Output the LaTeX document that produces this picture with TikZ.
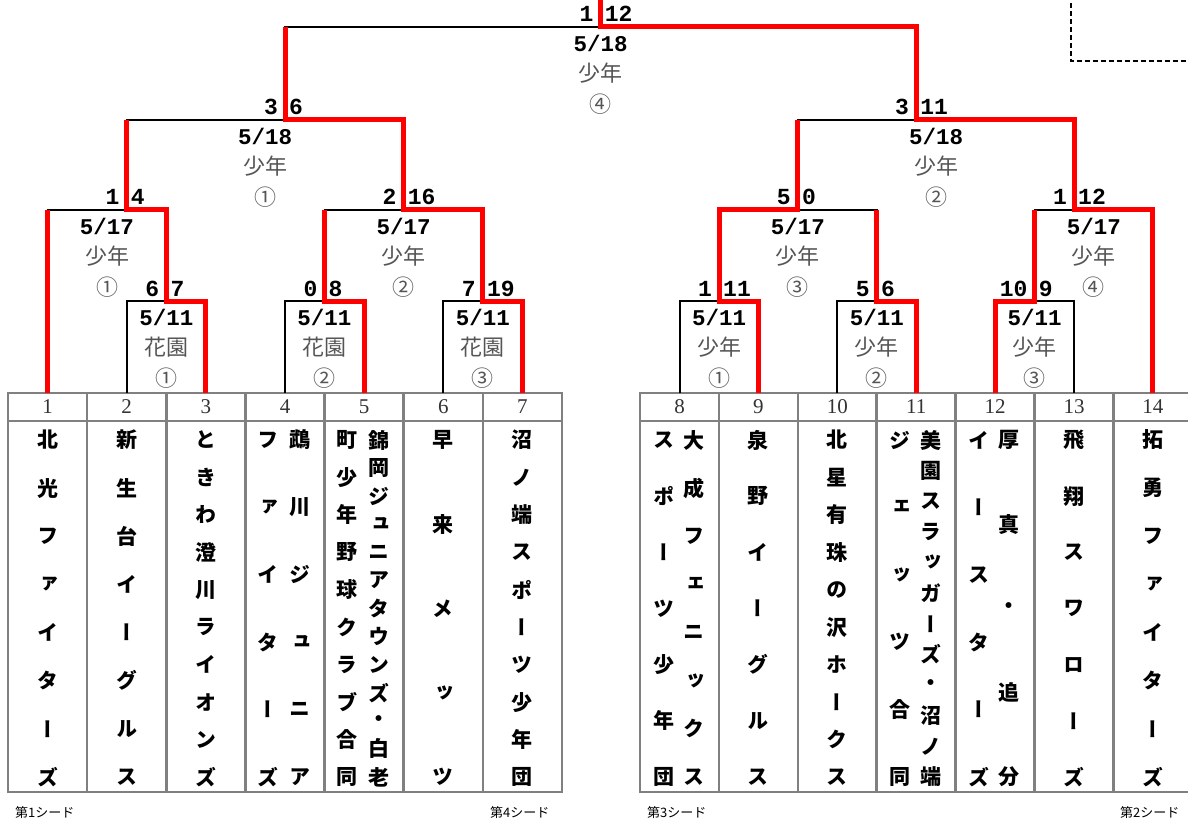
\documentclass[tikz,border=0pt]{standalone}
\usepackage{fontspec}
\setmainfont{Liberation Serif}
\newfontfamily\jpv[RawFeature=+vert]{Noto Sans CJK JP}
\newfontfamily\jp{Noto Sans CJK JP}
\newfontfamily\mono{Liberation Mono}
\definecolor{winred}{HTML}{FF0000}
\definecolor{tgray}{HTML}{808080}
\definecolor{lgray}{HTML}{555555}
\definecolor{ngray}{HTML}{333333}
\tikzset{
  blk/.style={black, line width=2pt},
  win/.style={winred, line width=5pt, line join=miter},
  tbl/.style={tgray, line width=2.5pt},
  score/.style={font=\mono\bfseries\fontsize{23}{23}\selectfont, inner sep=0pt},
  datet/.style={font=\mono\bfseries\fontsize{22.5}{22.5}\selectfont, inner sep=0pt},
  venue/.style={font=\jp\fontsize{22}{22}\selectfont, text=lgray, inner sep=0pt},
  circ/.style={font=\jp\fontsize{22}{22}\selectfont, text=lgray, inner sep=0pt},
  nm/.style={font=\jpv\bfseries\fontsize{21}{21}\selectfont, inner sep=0pt},
  num/.style={font=\fontsize{21}{21}\selectfont, text=ngray, inner sep=0pt},
  seed/.style={font=\jp\fontsize{13}{13}\selectfont, anchor=west, inner sep=0pt},
}
\newcommand\vcol[4]{%
  \foreach \ch [count=\k] in {#4} {%
    \pgfmathsetmacro\yy{440+(\k-1)*337/(#3-1)}%
    \node[nm] (#1-\k) at (#2,\yy) {\ch};
  }%
}
\newcommand\mscore[5]{%
  \node[score, anchor=base east] (#1l) at (#2-7,#3-5) {#4};
  \node[score, anchor=base west] (#1r) at (#2+4,#3-5) {#5};
}
\newcommand\minfo[6]{%
  \node[datet] (#1d) at (#2,#3+16) {#4};
  \node[venue] (#1v) at (#2,#3+46) {#5};
  \node[circ] (#1c) at (#2,#3+77) {#6};
}
\begin{document}
\begin{tikzpicture}[x=1pt,y=-1pt]
\useasboundingbox (0,0) rectangle (1188,826);
\clip (0,0) rectangle (1188,826);
\fill[white] (0,0) rectangle (1188,826);

% tables
\draw[tbl] (8,393) rectangle (562,792);
\draw[tbl] (8,421) -- (562,421);
\foreach \k in {1,...,6} \draw[tbl] ({8+\k*79.143},393) -- ({8+\k*79.143},792);
\draw[tbl] (640,393) rectangle (1193,792);
\draw[tbl] (640,421) -- (1193,421);
\foreach \k in {1,...,6} \draw[tbl] ({640+\k*78.9},393) -- ({640+\k*78.9},792);

% leaf coordinates
\coordinate (L1) at (47.6,393);
\coordinate (L2) at (126.7,393);
\coordinate (L3) at (205.9,393);
\coordinate (L4) at (285.0,393);
\coordinate (L5) at (364.1,393);
\coordinate (L6) at (443.3,393);
\coordinate (L7) at (522.4,393);
\coordinate (L8) at (679.5,393);
\coordinate (L9) at (758.4,393);
\coordinate (L10) at (837.3,393);
\coordinate (L11) at (916.2,393);
\coordinate (L12) at (995.1,393);
\coordinate (L13) at (1074.0,393);
\coordinate (L14) at (1152.9,393);
% match coordinates
\coordinate (B23) at (166.3,301);
\coordinate (B45) at (324.5,301);
\coordinate (B67) at (482.9,301);
\coordinate (B89) at (719.0,301);
\coordinate (B1011) at (876.8,301);
\coordinate (B1213) at (1034.6,301);
\coordinate (A) at (126.7,210);
\coordinate (B) at (403.7,210);
\coordinate (C) at (797.9,210);
\coordinate (D) at (1074.0,210);
\coordinate (SL) at (285.0,120);
\coordinate (SR) at (916.2,120);
\coordinate (F) at (600.6,27);
\coordinate (T) at (600.6,-5);

% table numbers
\foreach \i in {1,...,14} \node[num] (n\i) at (L\i |- 0,407) {\i};

% black bracket
\draw[blk] (L2) |- (B23) -| (L3);
\draw[blk] (L4) |- (B45) -| (L5);
\draw[blk] (L6) |- (B67) -| (L7);
\draw[blk] (L8) |- (B89) -| (L9);
\draw[blk] (L10) |- (B1011) -| (L11);
\draw[blk] (L12) |- (B1213) -| (L13);
\draw[blk] (L1) |- (A) -| (B23);
\draw[blk] (B45) |- (B) -| (B67);
\draw[blk] (B89) |- (C) -| (B1011);
\draw[blk] (B1213) |- (D) -| (L14);
\draw[blk] (A) |- (SL) -| (B);
\draw[blk] (C) |- (SR) -| (D);
\draw[blk] (SL) |- (F) -| (SR);

% winners
\draw[win] (L1) -- (L1 |- A);
\draw[win] (L3) |- (B23) -- (B23 |- A) -- (A) -- (A |- SL);
\draw[win] (L5) |- (B45) -- (B45 |- B);
\draw[win] (L7) |- (B67) -- (B67 |- B) -- (B) -- (B |- SL) -- (SL) -- (SL |- F);
\draw[win] (L9) |- (B89) -- (B89 |- C) -- (C) -- (C |- SR);
\draw[win] (L11) |- (B1011) -- (B1011 |- C);
\draw[win] (L12) |- (B1213) -- (B1213 |- D);
\draw[win] (L14) -- (L14 |- D) -- (D) -- (D |- SR) -- (SR) -- (SR |- F) -- (F) -- (T);

% scores
\mscore{s23}{166.3}{301}{6}{7}
\mscore{s45}{324.5}{301}{0}{8}
\mscore{s67}{482.9}{301}{7}{19}
\mscore{s89}{719.0}{301}{1}{11}
\mscore{s1011}{876.8}{301}{5}{6}
\mscore{s1213}{1034.6}{301}{10}{9}
\mscore{sA}{126.7}{210}{1}{4}
\mscore{sB}{403.7}{210}{2}{16}
\mscore{sC}{797.9}{210}{5}{0}
\mscore{sD}{1074.0}{210}{1}{12}
\mscore{sSL}{285.0}{120}{3}{6}
\mscore{sSR}{916.2}{120}{3}{11}
\mscore{sF}{600.6}{27}{1}{12}

% match info
\minfo{i23}{166.3}{301}{5/11}{花園}{①}
\minfo{i45}{324.5}{301}{5/11}{花園}{②}
\minfo{i67}{482.9}{301}{5/11}{花園}{③}
\minfo{i89}{719.0}{301}{5/11}{少年}{①}
\minfo{i1011}{876.8}{301}{5/11}{少年}{②}
\minfo{i1213}{1034.6}{301}{5/11}{少年}{③}
\minfo{iA}{107.0}{210}{5/17}{少年}{①}
\minfo{iB}{403.7}{210}{5/17}{少年}{②}
\minfo{iC}{797.9}{210}{5/17}{少年}{③}
\minfo{iD}{1093.8}{210}{5/17}{少年}{④}
\minfo{iSL}{265.2}{120}{5/18}{少年}{①}
\minfo{iSR}{936.0}{120}{5/18}{少年}{②}
\minfo{iF}{600.6}{27}{5/18}{少年}{④}

% team names
\vcol{t1}{47.6}{8}{北,光,フ,ァ,イ,タ,ー,ズ}
\vcol{t2}{126.7}{8}{新,生,台,イ,ー,グ,ル,ス}
\vcol{t3}{205.9}{10}{と,き,わ,澄,川,ラ,イ,オ,ン,ズ}
\vcol{t4a}{300}{6}{鵡,川,ジ,ュ,ニ,ア}
\vcol{t4b}{268}{6}{フ,ァ,イ,タ,ー,ズ}
\vcol{t5a}{379}{13}{錦,岡,ジ,ュ,ニ,ア,タ,ウ,ン,ズ,・,白,老}
\vcol{t5b}{347}{10}{町,少,年,野,球,ク,ラ,ブ,合,同}
\vcol{t6}{443.3}{5}{早,来,メ,ッ,ツ}
\vcol{t7}{522.4}{10}{沼,ノ,端,ス,ポ,ー,ツ,少,年,団}
\vcol{t8a}{694}{8}{大,成,フ,ェ,ニ,ッ,ク,ス}
\vcol{t8b}{664}{7}{ス,ポ,ー,ツ,少,年,団}
\vcol{t9}{758.4}{7}{泉,野,イ,ー,グ,ル,ス}
\vcol{t10}{837.3}{10}{北,星,有,珠,の,沢,ホ,ー,ク,ス}
\vcol{t11a}{931}{12}{美,園,ス,ラ,ッ,ガ,ー,ズ,・,沼,ノ,端}
\vcol{t11b}{900}{6}{ジ,ェ,ッ,ツ,合,同}
\vcol{t12a}{1009}{5}{厚,真,・,追,分}
\vcol{t12b}{979}{6}{イ,ー,ス,タ,ー,ズ}
\vcol{t13}{1074.0}{7}{飛,翔,ス,ワ,ロ,ー,ズ}
\vcol{t14}{1152.9}{8}{拓,勇,フ,ァ,イ,タ,ー,ズ}

% seeds
\node[seed] (seed1) at (15,813) {第1シード};
\node[seed] (seed4) at (490,813) {第4シード};
\node[seed] (seed3) at (647,813) {第3シード};
\node[seed] (seed2) at (1120,813) {第2シード};

% dashed box corner
\coordinate (db1) at (1071,-5);
\coordinate (db2) at (1071,61);
\coordinate (db3) at (1195,61);
\draw[black, line width=1.6pt, dash pattern=on 5pt off 3pt] (db1) -- (db2) -- (db3);
\end{tikzpicture}
\end{document}
